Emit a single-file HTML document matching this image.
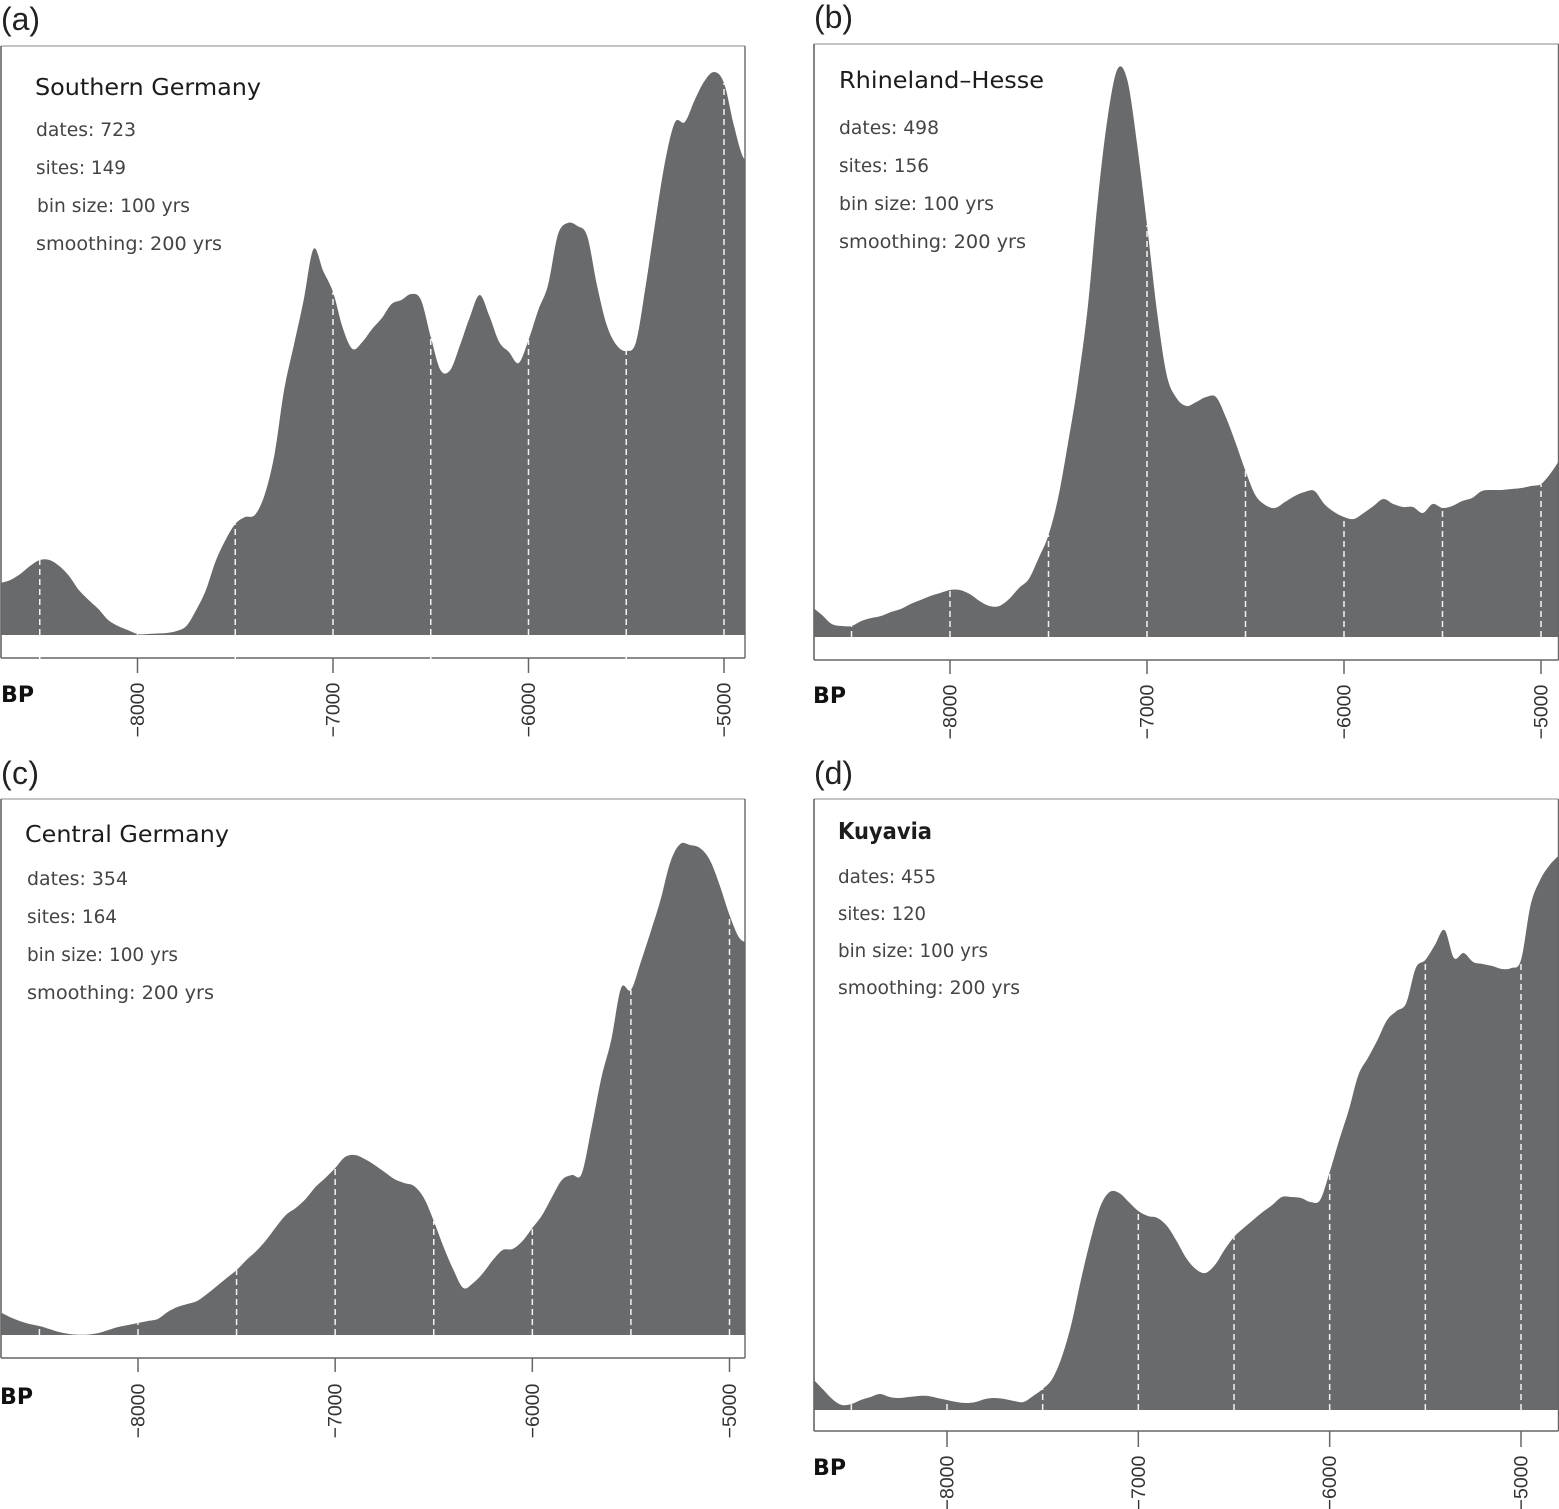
<!DOCTYPE html>
<html lang="en">
<head>
<meta charset="utf-8">
<title>Radiocarbon date density by region</title>
<style>
html,body{margin:0;padding:0;background:#fff;}
svg{display:block;}
.panel-label{font-family:"Liberation Sans",sans-serif;font-size:32px;fill:#222;}
.title{font-family:"DejaVu Sans",sans-serif;font-size:23px;fill:#1c1c1c;}
.info{font-family:"DejaVu Sans",sans-serif;font-size:19px;fill:#444;}
.bp{font-family:"DejaVu Sans",sans-serif;font-size:22px;font-weight:bold;fill:#111;}
.tick{font-family:"Liberation Sans",sans-serif;font-size:19.5px;fill:#333;}
</style>
</head>
<body>
<svg id="chart" xmlns="http://www.w3.org/2000/svg" width="1559" height="1509" viewBox="0 0 1559 1509">
  <g id="panel-a"></g>
  <g id="panel-b"></g>
  <g id="panel-c"></g>
  <g id="panel-d"></g>

  <text class="panel-label" x="1" y="30" textLength="39">(a)</text>
  <text class="title" x="35" y="95" textLength="226" lengthAdjust="spacingAndGlyphs">Southern Germany</text>
  <text class="info" x="36" y="136" textLength="100" lengthAdjust="spacingAndGlyphs">dates: 723</text>
  <text class="info" x="36" y="174" textLength="90" lengthAdjust="spacingAndGlyphs">sites: 149</text>
  <text class="info" x="37" y="212" textLength="153" lengthAdjust="spacingAndGlyphs">bin size: 100 yrs</text>
  <text class="info" x="36" y="250" textLength="186" lengthAdjust="spacingAndGlyphs">smoothing: 200 yrs</text>
  <text class="bp" x="1" y="702" textLength="33" lengthAdjust="spacingAndGlyphs">BP</text>

  <text class="panel-label" x="814" y="28" textLength="39">(b)</text>
  <text class="title" x="839" y="88" textLength="205" lengthAdjust="spacingAndGlyphs">Rhineland–Hesse</text>
  <text class="info" x="839" y="134" textLength="100" lengthAdjust="spacingAndGlyphs">dates: 498</text>
  <text class="info" x="839" y="172" textLength="90" lengthAdjust="spacingAndGlyphs">sites: 156</text>
  <text class="info" x="839" y="210" textLength="155" lengthAdjust="spacingAndGlyphs">bin size: 100 yrs</text>
  <text class="info" x="839" y="248" textLength="187" lengthAdjust="spacingAndGlyphs">smoothing: 200 yrs</text>
  <text class="bp" x="813" y="703" textLength="33" lengthAdjust="spacingAndGlyphs">BP</text>

  <text class="panel-label" x="1" y="784" textLength="38">(c)</text>
  <text class="title" x="25" y="842" textLength="204" lengthAdjust="spacingAndGlyphs">Central Germany</text>
  <text class="info" x="27" y="885" textLength="101" lengthAdjust="spacingAndGlyphs">dates: 354</text>
  <text class="info" x="27" y="923" textLength="90" lengthAdjust="spacingAndGlyphs">sites: 164</text>
  <text class="info" x="27" y="961" textLength="151" lengthAdjust="spacingAndGlyphs">bin size: 100 yrs</text>
  <text class="info" x="27" y="999" textLength="187" lengthAdjust="spacingAndGlyphs">smoothing: 200 yrs</text>
  <text class="bp" x="0" y="1404" textLength="33" lengthAdjust="spacingAndGlyphs">BP</text>

  <text class="panel-label" x="814" y="784" textLength="39">(d)</text>
  <text class="title" x="838" y="839" textLength="94" lengthAdjust="spacingAndGlyphs" font-weight="bold">Kuyavia</text>
  <text class="info" x="838" y="883" textLength="98" lengthAdjust="spacingAndGlyphs">dates: 455</text>
  <text class="info" x="838" y="920" textLength="88" lengthAdjust="spacingAndGlyphs">sites: 120</text>
  <text class="info" x="838" y="957" textLength="150" lengthAdjust="spacingAndGlyphs">bin size: 100 yrs</text>
  <text class="info" x="838" y="994" textLength="182" lengthAdjust="spacingAndGlyphs">smoothing: 200 yrs</text>
  <text class="bp" x="813" y="1475" textLength="33" lengthAdjust="spacingAndGlyphs">BP</text>
</svg>

<script>
const years = [-8700,-8650,-8600,-8550,-8500,-8450,-8400,-8350,-8300,-8250,-8200,-8150,-8100,-8050,-8000,-7950,-7900,-7850,-7800,-7750,-7700,-7650,-7600,-7550,-7500,-7450,-7400,-7350,-7300,-7250,-7200,-7150,-7100,-7050,-7000,-6950,-6900,-6850,-6800,-6750,-6700,-6650,-6600,-6550,-6500,-6450,-6400,-6350,-6300,-6250,-6200,-6150,-6100,-6050,-6000,-5950,-5900,-5850,-5800,-5750,-5700,-5650,-5600,-5550,-5500,-5450,-5400,-5350,-5300,-5250,-5200,-5150,-5100,-5050,-5000,-4950,-4900,-4850,-4800];

const densityA = [52,55,61,69,75,75,69,59,45,35,26,15,9,5,1,1,1.5,2,4,9,25,45,74,95,111,118,120,140,180,245,290,335,386,364,343,307,286,293,306,317,331,335,341,335,298,265,265,290,318,340,319,293,283,272,295,325,350,400,412,409,399,350,310,290,284,293,350,415,475,513,513,535,554,563,552,510,477,475];
const densityB = [30,22,13,11,11,16,19,21,25,28,33,37,41,44,47,47,43,36,31,31,38,49,58,79,102,140,195,255,331,437,519,568,557,492,412,327,262,239,231,235,240,240,220,194,166,142,132,129,135,141,145,146,133,125,120,118,124,131,138,133,130,130,124,133,129,131,136,139,146,147,147,148,149,151,153,164,179];
const densityC = [23,18,14,11,9,6,3,1,0.3,0.5,2,5,8,10,12,14,16,23,28,31,34,41,49,57,65,75,84,95,108,120,127,136,148,157,167,178,180,176,170,163,156,152,149,137,114,88,65,47,52,62,75,85,86,94,107,120,138,155,160,161,207,257,295,347,345,373,403,435,473,491,490,487,475,450,420,397,392];
const densityD = [31,21,11,5,6,10,13,16,13,12,13,14,14,12,10,8,7,8,11,12,11,9,8,14,21,31,53,86,130,170,203,218,217,208,199,194,192,184,169,152,141,137,145,160,173,182,190,198,205,213,213,212,208,210,238,270,300,335,352,370,390,399,407,442,450,465,480,452,457,448,446,444,441,442,450,505,530,545,555];

const tickYears = [-8000,-7000,-6000,-5000];
const markerYears = [-8500,-8000,-7500,-7000,-6500,-6000,-5500,-5000];

const SVGNS = 'http://www.w3.org/2000/svg';
const FILL = '#696a6c';
const AXIS = '#666';

function makeXScale(tickA, tickB) {
  const k = (tickB - tickA) / 3000;
  return function (year) { return tickA + (year + 8000) * k; };
}
function makeYScale(base, top) {
  const maxValue = base - top;
  return function (v) { return base - (v / maxValue) * (base - top); };
}
function add(parent, tag, attrs) {
  const el = document.createElementNS(SVGNS, tag);
  for (const k in attrs) el.setAttribute(k, attrs[k]);
  parent.appendChild(el);
  return el;
}
function valueAt(series, year) {
  for (let i = 0; i < series.length - 1; i++) {
    if (years[i] <= year && year <= years[i + 1]) {
      const t = (year - years[i]) / (years[i + 1] - years[i]);
      return series[i] + t * (series[i + 1] - series[i]);
    }
  }
  return 0;
}
function areaPath(series, x, y, base) {
  const pts = series.map(function (v, i) { return [x(years[i]), y(v)]; });
  let d = 'M' + pts[0][0].toFixed(1) + ' ' + base + 'L' + pts[0][0].toFixed(1) + ' ' + pts[0][1].toFixed(1);
  for (let i = 0; i < pts.length - 1; i++) {
    const p0 = pts[Math.max(0, i - 1)], p1 = pts[i], p2 = pts[i + 1], p3 = pts[Math.min(pts.length - 1, i + 2)];
    const c1x = p1[0] + (p2[0] - p0[0]) / 6, c1y = p1[1] + (p2[1] - p0[1]) / 6;
    const c2x = p2[0] - (p3[0] - p1[0]) / 6, c2y = p2[1] - (p3[1] - p1[1]) / 6;
    d += 'C' + c1x.toFixed(1) + ' ' + c1y.toFixed(1) + ' ' + c2x.toFixed(1) + ' ' + c2y.toFixed(1) + ' ' + p2[0].toFixed(1) + ' ' + p2[1].toFixed(1);
  }
  d += 'L' + pts[pts.length - 1][0].toFixed(1) + ' ' + base + 'Z';
  return d;
}

function drawPanel(id, series, c) {
  const g = document.getElementById(id);
  const x = makeXScale(c.tick8000, c.tick5000);
  const y = makeYScale(c.base, c.top);

  const clip = add(g, 'clipPath', { id: id + '-clip' });
  add(clip, 'rect', { x: c.left, y: c.top, width: c.right - c.left, height: c.bottom - c.top });

  const plot = add(g, 'g', { 'clip-path': 'url(#' + id + '-clip)' });
  
  

  const area = add(plot, 'path', { d: areaPath(series, x, y, c.base), fill: FILL });
  
  

  markerYears.forEach(function (yr) {
    const m = add(plot, 'line', {
      x1: x(yr), x2: x(yr), y1: c.base, y2: y(valueAt(series, yr)),
      stroke: '#f2f2f2', 'stroke-width': 1.5, 'stroke-dasharray': '6 4'
    });
    
    
  });

  const topLine = add(g, 'line', { x1: c.left, x2: c.right, y1: c.top, y2: c.top, stroke: '#8a8a8a', 'stroke-width': 1 });
  
  
  const leftLine = add(g, 'line', { x1: c.left, x2: c.left, y1: c.top, y2: c.bottom, stroke: AXIS, 'stroke-width': 1.6 });
  
  
  const rightLine = add(g, 'line', { x1: c.right, x2: c.right, y1: c.top, y2: c.bottom, stroke: AXIS, 'stroke-width': 1.4 });
  
  
  const axisLine = add(g, 'line', { x1: c.left, x2: c.right, y1: c.bottom, y2: c.bottom, stroke: AXIS, 'stroke-width': 1.6 });
  
  

  if (c.axisBreaks) {
    markerYears.forEach(function (yr) {
      if (tickYears.indexOf(yr) >= 0) return;
      const b = add(g, 'line', { x1: x(yr), x2: x(yr), y1: c.bottom - 1.5, y2: c.bottom + 1.5, stroke: '#fff', 'stroke-width': 1.5 });
      
      
    });
  }

  tickYears.forEach(function (yr) {
    const t = add(g, 'line', { x1: x(yr), x2: x(yr), y1: c.bottom, y2: c.tickEnd, stroke: AXIS, 'stroke-width': 1.5 });
    
    
    const lx = x(yr) + 6.5;
    const lab = add(g, 'text', {
      class: 'tick', x: lx, y: c.labelY, 'text-anchor': 'middle',
      transform: 'rotate(-90 ' + lx + ' ' + c.labelY + ')'
    });
    
    
    lab.textContent = '\u2212' + Math.abs(yr);
  });
}

drawPanel('panel-a', densityA, { left: 1, right: 745, top: 46, bottom: 658, base: 635, tick8000: 137.5, tick5000: 724, tickEnd: 673, labelY: 710, axisBreaks: true });
drawPanel('panel-b', densityB, { left: 814, right: 1558.5, top: 44, bottom: 660, base: 637, tick8000: 950, tick5000: 1541, tickEnd: 674, labelY: 712, axisBreaks: false });
drawPanel('panel-c', densityC, { left: 1, right: 745, top: 799, bottom: 1358, base: 1335, tick8000: 138, tick5000: 729.5, tickEnd: 1372, labelY: 1411, axisBreaks: false });
drawPanel('panel-d', densityD, { left: 814, right: 1558.5, top: 799, bottom: 1431, base: 1410, tick8000: 947, tick5000: 1521, tickEnd: 1447, labelY: 1483, axisBreaks: false });
</script>
</body>
</html>
